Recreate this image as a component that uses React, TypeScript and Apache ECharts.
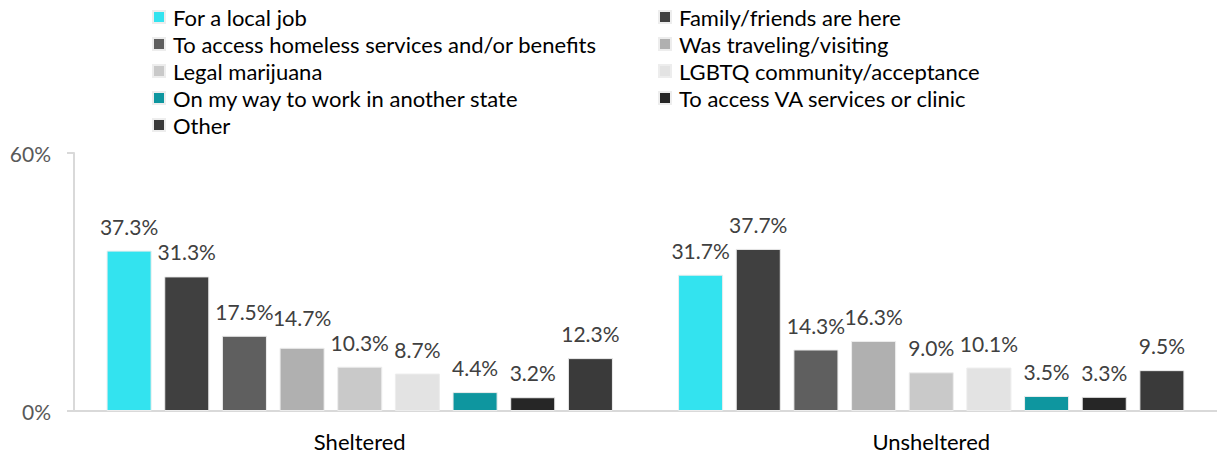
import React, { useEffect, useRef } from "react";
import * as echarts from "echarts";

const categories = ["Sheltered", "Unsheltered"];
const seriesNames = [
  "For a local job",
  "Family/friends are here",
  "To access homeless services and/or benefits",
  "Was traveling/visiting",
  "Legal marijuana",
  "LGBTQ community/acceptance",
  "On my way to work in another state",
  "To access VA services or clinic",
  "Other",
];
const forLocalJob = [37.3, 31.7];
const familyFriends = [31.3, 37.7];
const homelessServices = [17.5, 14.3];
const travelingVisiting = [14.7, 16.3];
const legalMarijuana = [10.3, 9.0];
const lgbtq = [8.7, 10.1];
const onMyWay = [4.4, 3.5];
const vaServices = [3.2, 3.3];
const other = [12.3, 9.5];
const seriesValues = [
  forLocalJob,
  familyFriends,
  homelessServices,
  travelingVisiting,
  legalMarijuana,
  lgbtq,
  onMyWay,
  vaServices,
  other,
];
const colors = [
  "#33E3EF",
  "#404040",
  "#5F5F5F",
  "#B0B0B0",
  "#C9C9C9",
  "#E3E3E3",
  "#0E969F",
  "#262626",
  "#3A3A3A",
];
const yTicks = [0, 60];

const FONT = "Lato";

export default function App() {
  const ref = useRef<HTMLDivElement>(null);
  useEffect(() => {
    if (!ref.current) return;
    const chart = echarts.init(ref.current, undefined, { renderer: "svg" });
    const leftItems = [0, 2, 4, 6, 8].map((i) => seriesNames[i]);
    const rightItems = [1, 3, 5, 7].map((i) => seriesNames[i]);
    const legendCommon = {
      orient: "vertical" as const,
      top: 6,
      padding: 0,
      itemGap: 5,
      itemWidth: 12,
      itemHeight: 12,
      icon: "rect",
      selectedMode: false,
      textStyle: {
        fontFamily: FONT,
        fontSize: 22,
        color: "#000000",
        lineHeight: 21,
        padding: [0, 0, 0, 3],
      },
    };
    chart.setOption({
      animation: false,
      color: colors,
      textStyle: { fontFamily: FONT },
      legend: [
        { ...legendCommon, left: 152, data: leftItems },
        { ...legendCommon, left: 658, data: rightItems },
      ],
      grid: { left: 74, right: 0, top: 153, bottom: 46, containLabel: false },
      xAxis: {
        type: "category",
        data: categories,
        axisTick: { show: false },
        axisLine: { lineStyle: { color: "#D9D9D9", width: 2 } },
        axisLabel: {
          fontFamily: FONT,
          fontSize: 22,
          color: "#000000",
          margin: 19,
        },
      },
      yAxis: {
        type: "value",
        min: yTicks[0],
        max: yTicks[1],
        interval: 60,
        splitLine: { show: false },
        axisLine: { show: true, lineStyle: { color: "#D9D9D9", width: 2 } },
        axisTick: { show: true, length: 7, lineStyle: { color: "#D9D9D9", width: 2 } },
        axisLabel: {
          fontFamily: FONT,
          fontSize: 21,
          color: "#595959",
          margin: 23,
          formatter: (v: number) => `${v}%`,
        },
      },
      series: seriesNames.map((name, i) => ({
        name,
        type: "bar",
        barGap: "28%",
        barCategoryGap: "11.4%",
        itemStyle: { color: colors[i], borderColor: "#EDEDED", borderWidth: 1 },
        label: {
          show: true,
          position: "top",
          distance: 14,
          fontFamily: FONT,
          fontSize: 21,
          color: "#404040",
          formatter: (p: any) => `${Number(p.value).toFixed(1)}%`,
        },
        data: seriesValues[i].map((v, j) =>
          i === 3 && j === 0 ? { value: v, label: { offset: [0, -6] } } : v
        ),
      })),
    });
    return () => chart.dispose();
  }, []);
  return (
    <div
      ref={ref}
      style={{ position: "absolute", left: 0, top: 0, width: 1217, height: 457 }}
    />
  );
}
